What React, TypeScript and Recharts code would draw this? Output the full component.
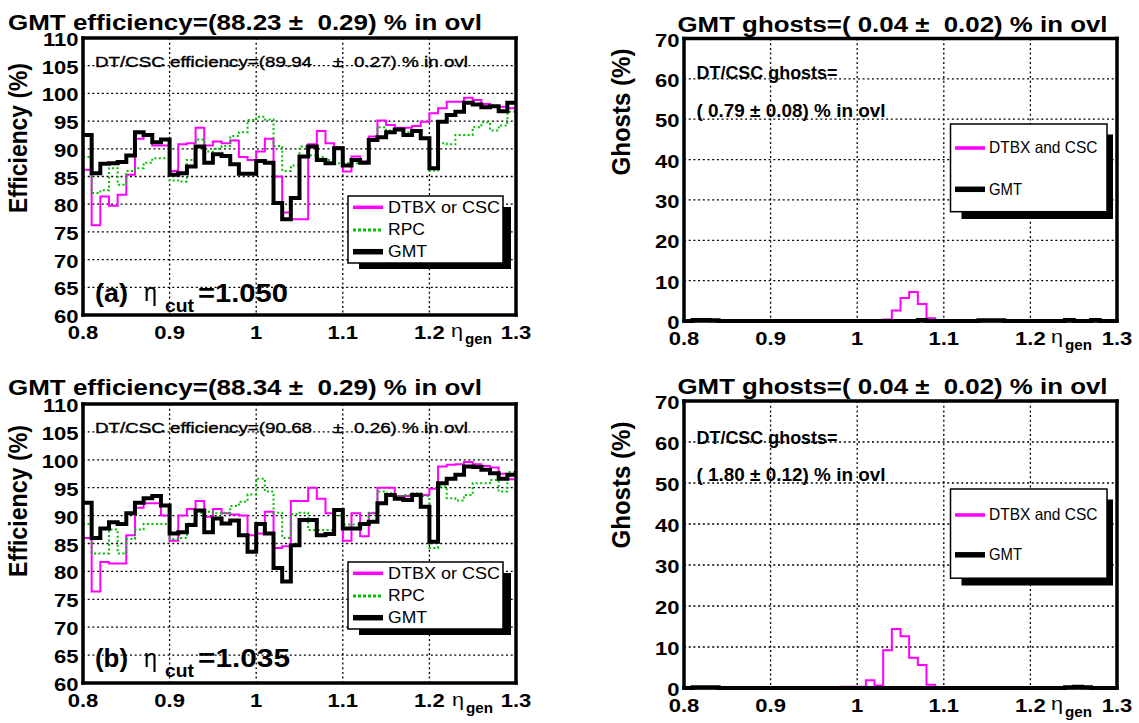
import React from 'react';
import { ComposedChart, Line, XAxis, YAxis, CartesianGrid, Legend } from 'recharts';

const FONT = '"Liberation Sans", Arial, Helvetica, sans-serif';
const SX = 1.16; // the original glyphs are drawn a bit wide
const MAGENTA = '#ff00ff';
const GREEN = '#00c000';

// eta_gen bin low edges, plus the upper edge of the last bin
const etaEdges = [
  0.80, 0.81, 0.82, 0.83, 0.84, 0.85, 0.86, 0.87, 0.88, 0.89,
  0.90, 0.91, 0.92, 0.93, 0.94, 0.95, 0.96, 0.97, 0.98, 0.99,
  1.00, 1.01, 1.02, 1.03, 1.04, 1.05, 1.06, 1.07, 1.08, 1.09,
  1.10, 1.11, 1.12, 1.13, 1.14, 1.15, 1.16, 1.17, 1.18, 1.19,
  1.20, 1.21, 1.22, 1.23, 1.24, 1.25, 1.26, 1.27, 1.28, 1.29,
  1.30,
];

const xTicks = [0.8, 0.9, 1.0, 1.1, 1.2, 1.3];
const xMinorTicks = [0.85, 0.95, 1.05, 1.15, 1.25];
const effTicks = [60, 65, 70, 75, 80, 85, 90, 95, 100, 105, 110];
const effMinorTicks = [
  61, 62, 63, 64, 66, 67, 68, 69, 71, 72, 73, 74, 76, 77, 78, 79,
  81, 82, 83, 84, 86, 87, 88, 89, 91, 92, 93, 94, 96, 97, 98, 99,
  101, 102, 103, 104, 106, 107, 108, 109,
];
const ghostTicks = [0, 10, 20, 30, 40, 50, 60, 70];
const ghostMinorTicks = [
  2, 4, 6, 8, 12, 14, 16, 18, 22, 24, 26, 28, 32, 34, 36, 38,
  42, 44, 46, 48, 52, 54, 56, 58, 62, 64, 66, 68,
];

// (a) eta_cut = 1.050, efficiency (%)
const dtbxEffA = [
  86.2, 76.2, 81.4, 79.7, 81.7, 85.3, 91.8, 92.4, 90.6, 90.6,
  86.0, 90.8, 91.0, 93.8, 90.6, 91.3, 91.0, 91.5, 88.5, 88.0,
  89.5, 91.8, 85.0, 78.5, 77.3, 77.3, 90.8, 93.2, 91.0, 90.3,
  85.9, 88.6, 87.7, 92.2, 95.1, 94.3, 93.8, 93.8, 94.1, 94.9,
  96.4, 97.3, 98.5, 98.5, 99.2, 98.8, 98.1, 97.6, 97.6, 97.3,
];
const rpcEffA = [
  88.5, 82.0, 82.5, 86.5, 83.5, 86.0, 86.5, 87.5, 88.3, 88.3,
  84.3, 84.1, 88.0, 91.7, 89.5, 90.0, 90.5, 92.3, 93.0, 95.2,
  95.8, 95.3, 90.5, 86.0, 87.0, 90.4, 88.8, 88.5, 88.0, 87.4,
  87.4, 87.4, 87.4, 91.5, 93.9, 93.3, 93.5, 93.0, 93.3, 92.0,
  86.1, 91.0, 90.8, 92.5, 92.5, 93.9, 94.8, 93.3, 94.2, 96.7,
];
const gmtEffA = [
  92.5, 85.6, 87.3, 87.4, 87.6, 88.8, 93.0, 92.5, 91.2, 91.7,
  85.3, 85.6, 86.8, 90.4, 87.5, 89.0, 88.7, 87.2, 85.5, 85.5,
  87.8, 87.5, 80.2, 77.3, 81.1, 88.6, 90.4, 88.0, 87.4, 90.1,
  87.0, 88.0, 87.5, 91.6, 92.1, 93.0, 93.5, 92.5, 93.2, 91.9,
  86.5, 94.9, 96.1, 96.7, 98.3, 98.0, 97.5, 97.7, 96.8, 98.3,
];

// (b) eta_cut = 1.035, efficiency (%)
const dtbxEffB = [
  86.0, 76.4, 81.7, 81.4, 81.4, 86.5, 91.4, 92.2, 92.2, 90.0,
  85.5, 90.0, 91.2, 92.6, 89.8, 91.2, 90.4, 90.2, 90.0, 86.5,
  86.8, 90.7, 84.2, 84.5, 92.6, 92.6, 95.0, 93.0, 90.4, 91.0,
  85.5, 90.4, 86.3, 90.4, 95.0, 95.0, 93.5, 93.5, 93.9, 93.7,
  94.8, 98.8, 99.1, 99.2, 99.6, 99.2, 98.9, 98.6, 97.5, 96.5,
];
const rpcEffB = [
  88.5, 83.2, 83.2, 87.5, 83.2, 85.8, 87.5, 88.5, 88.5, 88.5,
  85.8, 86.0, 88.6, 90.5, 90.7, 90.4, 90.5, 91.7, 92.5, 93.8,
  96.6, 94.3, 90.5, 86.0, 90.3, 90.5, 87.4, 87.4, 87.4, 90.0,
  88.4, 88.4, 88.4, 90.5, 94.3, 94.0, 93.5, 93.7, 94.0, 93.5,
  84.2, 95.2, 93.1, 92.7, 93.7, 95.8, 95.8, 96.4, 94.3, 97.8,
];
const gmtEffB = [
  92.3, 86.0, 87.7, 88.8, 88.5, 90.4, 92.3, 93.1, 93.5, 91.8,
  86.8, 87.0, 88.3, 90.9, 87.0, 89.5, 88.6, 89.1, 86.5, 83.5,
  88.5, 86.8, 80.6, 78.2, 84.7, 89.2, 89.2, 86.5, 86.7, 91.0,
  87.7, 87.7, 88.5, 88.9, 92.2, 93.7, 93.0, 92.8, 93.7, 91.6,
  85.3, 95.8, 96.6, 97.3, 98.8, 98.7, 98.2, 97.6, 96.6, 97.3,
];

// ghosts (%)
const dtbxGhostA = [
  0, 0, 0, 0, 0, 0, 0, 0, 0, 0,
  0, 0, 0, 0.15, 0.15, 0, 0, 0, 0, 0.1,
  0.1, 0.1, 0.1, 0.4, 2.6, 5.7, 7.2, 4.2, 0.7, 0,
  0, 0, 0, 0, 0, 0, 0, 0, 0, 0,
  0, 0, 0, 0, 0, 0, 0, 0, 0, 0,
];
const gmtGhostA = [
  0, 0.25, 0.25, 0.2, 0, 0, 0, 0, 0, 0,
  0, 0, 0, 0, 0, 0, 0, 0, 0, 0,
  0, 0, 0, 0, 0, 0, 0, 0.25, 0, 0,
  0, 0, 0, 0, 0.2, 0.2, 0.2, 0, 0, 0,
  0, 0, 0, 0, 0.25, 0, 0, 0.25, 0, 0,
];
const dtbxGhostB = [
  0, 0, 0, 0, 0, 0, 0, 0, 0, 0,
  0, 0, 0, 0, 0, 0, 0, 0, 0.3, 0.3,
  0.3, 1.9, 0.6, 9.2, 14.4, 12.6, 7.4, 5.6, 0.8, 0,
  0, 0, 0, 0, 0, 0, 0, 0, 0, 0,
  0, 0, 0, 0, 0, 0, 0, 0, 0, 0,
];
const gmtGhostB = [
  0, 0.2, 0.2, 0.2, 0, 0, 0, 0, 0, 0,
  0, 0, 0, 0, 0, 0, 0, 0, 0, 0,
  0, 0, 0, 0, 0, 0, 0, 0, 0, 0,
  0, 0, 0, 0, 0, 0, 0, 0, 0, 0,
  0, 0, 0, 0, 0.2, 0.3, 0.2, 0, 0, 0,
];

function makeRows(cols: Record<string, number[]>) {
  return etaEdges.map((x, i) => {
    const row: Record<string, number> = { x };
    for (const k in cols) row[k] = cols[k][Math.min(i, cols[k].length - 1)];
    return row;
  });
}

type SeriesDef = { key: string; color: string; width: number; dash?: string };
type LegendEntry = { color: string; width: number; dash?: string; y: number; ty: number; label: string; len: number };
type LegendDef = { box: number[]; shadow: number[]; sx: number[]; tx: number; size: number; entries: LegendEntry[] };

const effSeries: SeriesDef[] = [
  { key: 'dtbx', color: MAGENTA, width: 2 },
  { key: 'rpc', color: GREEN, width: 2, dash: '2 2.5' },
  { key: 'gmt', color: '#000', width: 4 },
];
const ghostSeries: SeriesDef[] = [
  { key: 'dtbx', color: MAGENTA, width: 2 },
  { key: 'gmt', color: '#000', width: 4 },
];

function effLegend(dy: number): LegendDef {
  return {
    box: [348, 196 + dy, 503, 263 + dy], shadow: [359, 207 + dy, 511, 269 + dy], sx: [353, 383], tx: 388, size: 16,
    entries: [
      { color: MAGENTA, width: 3.5, y: 207.3 + dy, ty: 213.3 + dy, label: 'DTBX or CSC', len: 112 },
      { color: GREEN, width: 3, dash: '3 2', y: 230 + dy, ty: 235.3 + dy, label: 'RPC', len: 37 },
      { color: '#000', width: 5.5, y: 251.7 + dy, ty: 257.3 + dy, label: 'GMT', len: 39 },
    ],
  };
}
function ghostLegend(y0: number, y1: number, magY: number, gmtY: number): LegendDef {
  return {
    box: [950.5, y0, 1107, y1], shadow: [961.5, y0 + 10.5, 1113, y1 + 7.3], sx: [955, 985], tx: 989, size: 16.5,
    entries: [
      { color: MAGENTA, width: 3.5, y: magY, ty: magY + 5.3, label: 'DTBX and CSC', len: 108.5 },
      { color: '#000', width: 5.5, y: gmtY, ty: gmtY + 5.3, label: 'GMT', len: 33 },
    ],
  };
}

function LegendSvg({ def, left, top, w, h }: { def: LegendDef; left: number; top: number; w: number; h: number }) {
  const [x0, y0, x1, y1] = def.box;
  const [s0, t0, s1, t1] = def.shadow;
  return (
    <svg width={w} height={h} style={{ position: 'absolute', left: 0, top: 0, overflow: 'visible' }}>
      <g transform={`translate(${-left},${-top})`}>
        <rect x={s0} y={t0} width={s1 - s0} height={t1 - t0} fill="#000" />
        <rect x={x0} y={y0} width={x1 - x0} height={y1 - y0} fill="#fff" stroke="#000" strokeWidth={1.5} />
        {def.entries.map((e) => (
          <g key={e.label}>
            <line x1={def.sx[0]} x2={def.sx[1]} y1={e.y} y2={e.y} stroke={e.color} strokeWidth={e.width} strokeDasharray={e.dash} />
            <text x={def.tx} y={e.ty} fontFamily={FONT} fontSize={def.size} textLength={e.len} lengthAdjust="spacingAndGlyphs" fill="#000">{e.label}</text>
          </g>
        ))}
      </g>
    </svg>
  );
}

type PanelProps = {
  left: number; top: number; w: number; h: number;
  plot: { l: number; t: number; r: number; b: number };
  yDomain: number[]; yTicks: number[]; yMinor: number[];
  rows: Record<string, number>[]; series: SeriesDef[]; legend: LegendDef;
};

function Panel({ left, top, w, h, plot, yDomain, yTicks, yMinor, rows, series, legend }: PanelProps) {
  const margin = { left: plot.l - left, top: plot.t - top, right: left + w - plot.r, bottom: top + h - plot.b };
  const frame = { stroke: '#000', strokeWidth: 3.5, strokeLinecap: 'square' as const };
  const tickLine = { stroke: '#000', strokeWidth: 1.5 };
  const labelBase = plot.b - top + 24;
  const labelRight = plot.l - left - 4.5;

  const xTick = (p: any) => (
    <text transform={`translate(${p.x},${labelBase}) scale(${SX},1)`} textAnchor="middle"
      fontFamily={FONT} fontWeight="bold" fontSize={19} fill="#000">{String(p.payload.value)}</text>
  );
  const yTick = (p: any) => (
    <text transform={`translate(${labelRight},${p.y + 8}) scale(${SX},1)`} textAnchor="end"
      fontFamily={FONT} fontWeight="bold" fontSize={19} fill="#000">{String(p.payload.value)}</text>
  );

  return (
    <div style={{ position: 'absolute', left, top, width: w, height: h }}>
      <ComposedChart width={w} height={h} data={rows} margin={margin}>
        <CartesianGrid xAxisId="x" yAxisId="y" stroke="#000" strokeWidth={1.3} strokeDasharray="2 2.7" />
        {series.map((s) => (
          <Line key={s.key} xAxisId="x" yAxisId="y" type="stepAfter" dataKey={s.key} stroke={s.color}
            strokeWidth={s.width} strokeDasharray={s.dash} dot={false} activeDot={false} isAnimationActive={false} />
        ))}
        <XAxis xAxisId="x" dataKey="x" type="number" domain={[0.8, 1.3]} ticks={xTicks} interval={0}
          orientation="bottom" mirror height={0.01} tickLine={false} axisLine={frame} tick={xTick} />
        <XAxis xAxisId="xm" dataKey="x" type="number" domain={[0.8, 1.3]} ticks={xMinorTicks} interval={0}
          orientation="bottom" mirror height={0.01} tickSize={8} tickLine={tickLine} axisLine={false} tick={false} />
        <XAxis xAxisId="xt" dataKey="x" type="number" domain={[0.8, 1.3]} ticks={xMinorTicks} interval={0}
          orientation="top" mirror height={0.01} tickSize={8} tickLine={tickLine} axisLine={frame} tick={false} />
        <YAxis yAxisId="y" type="number" domain={yDomain} ticks={yTicks} interval={0}
          orientation="left" mirror width={0.01} tickLine={false} axisLine={frame} tick={yTick} />
        <YAxis yAxisId="ym" type="number" domain={yDomain} ticks={yMinor} interval={0}
          orientation="left" mirror width={0.01} tickSize={7} tickLine={tickLine} axisLine={false} tick={false} />
        <YAxis yAxisId="yr" type="number" domain={yDomain} ticks={yTicks} interval={0}
          orientation="right" mirror width={0.01} tickLine={false} axisLine={frame} tick={false} />
        <Legend layout="horizontal" verticalAlign="middle" align="center"
          wrapperStyle={{ left: 0, top: 0, width: w, height: h, pointerEvents: 'none' }}
          content={() => <LegendSvg def={legend} left={left} top={top} w={w} h={h} />} />
      </ComposedChart>
    </div>
  );
}

function Txt({ x, y, size, bold, len, heavy, children }: any) {
  return (
    <text x={x} y={y} fontFamily={FONT} fontSize={size} fontWeight={bold ? 'bold' : 'normal'} fill="#000"
      stroke={heavy ? '#000' : undefined} strokeWidth={heavy ? 0.35 : undefined}
      textLength={len} lengthAdjust="spacingAndGlyphs" style={{ whiteSpace: 'pre' }}>{children}</text>
  );
}

function YTitle({ x, cy, len, size, children }: any) {
  return (
    <text transform={`translate(${x},${cy}) scale(${SX},1) rotate(-90)`} textAnchor="middle" fontFamily={FONT}
      fontSize={size} fontWeight="bold" fill="#000" textLength={len} lengthAdjust="spacingAndGlyphs">{children}</text>
  );
}

function EtaGen({ x, base }: { x: number; base: number }) {
  return (
    <g>
      <Txt x={x} y={base + 22} size={19} len={12}>η</Txt>
      <Txt x={x + 14} y={base + 29} size={14} bold len={27}>gen</Txt>
    </g>
  );
}

export default function App() {
  const rowsA = makeRows({ dtbx: dtbxEffA, rpc: rpcEffA, gmt: gmtEffA });
  const rowsB = makeRows({ dtbx: dtbxEffB, rpc: rpcEffB, gmt: gmtEffB });
  const rowsGA = makeRows({ dtbx: dtbxGhostA, gmt: gmtGhostA });
  const rowsGB = makeRows({ dtbx: dtbxGhostB, gmt: gmtGhostB });

  return (
    <div style={{ position: 'absolute', left: 0, top: 0, width: 1139, height: 723, background: '#fff', overflow: 'hidden' }}>
      <Panel left={0} top={0} w={569} h={361} plot={{ l: 83, t: 38, r: 516, b: 315 }}
        yDomain={[60, 110]} yTicks={effTicks} yMinor={effMinorTicks} rows={rowsA} series={effSeries} legend={effLegend(0)} />
      <Panel left={0} top={361} w={569} h={362} plot={{ l: 83, t: 404, r: 516, b: 683 }}
        yDomain={[60, 110]} yTicks={effTicks} yMinor={effMinorTicks} rows={rowsB} series={effSeries} legend={effLegend(366)} />
      <Panel left={569} top={0} w={570} h={361} plot={{ l: 684, t: 38.5, r: 1117, b: 321 }}
        yDomain={[0, 70]} yTicks={ghostTicks} yMinor={ghostMinorTicks} rows={rowsGA} series={ghostSeries}
        legend={ghostLegend(124, 211.7, 148, 189.3)} />
      <Panel left={569} top={361} w={570} h={362} plot={{ l: 684, t: 401, r: 1117, b: 688 }}
        yDomain={[0, 70]} yTicks={ghostTicks} yMinor={ghostMinorTicks} rows={rowsGB} series={ghostSeries}
        legend={ghostLegend(489, 578.2, 515, 554.8)} />

      <svg width={1139} height={723} style={{ position: 'absolute', left: 0, top: 0, pointerEvents: 'none' }}>
        {/* top left */}
        <Txt x={8} y={29.5} size={22.5} bold len={474}>GMT efficiency=(88.23 ±  0.29) % in ovl</Txt>
        <YTitle x={27} cy={138} len={150} size={22}>Efficiency (%)</YTitle>
        <Txt x={95} y={67} size={14} heavy len={217}>DT/CSC efficiency=(89.94</Txt>
        <Txt x={333} y={67} size={14} heavy len={10}>±</Txt>
        <Txt x={354} y={67} size={14} heavy len={114}>0.27) % in ovl</Txt>
        <Txt x={95} y={301.5} size={26} bold len={33}>(a)</Txt>
        <Txt x={144} y={301} size={25} len={13}>η</Txt>
        <Txt x={165} y={312} size={18} bold len={29}>cut</Txt>
        <Txt x={198} y={301.5} size={26} bold len={90}>=1.050</Txt>
        <EtaGen x={451} base={315} />

        {/* bottom left */}
        <Txt x={8} y={395} size={22.5} bold len={474}>GMT efficiency=(88.34 ±  0.29) % in ovl</Txt>
        <YTitle x={27} cy={501} len={152} size={22}>Efficiency (%)</YTitle>
        <Txt x={95} y={432.7} size={14} heavy len={217}>DT/CSC efficiency=(90.68</Txt>
        <Txt x={333} y={432.7} size={14} heavy len={10}>±</Txt>
        <Txt x={354} y={432.7} size={14} heavy len={114}>0.26) % in ovl</Txt>
        <Txt x={95} y={667} size={26} bold len={33}>(b)</Txt>
        <Txt x={144} y={666.5} size={25} len={13}>η</Txt>
        <Txt x={165} y={677} size={18} bold len={29}>cut</Txt>
        <Txt x={198} y={667} size={26} bold len={92}>=1.035</Txt>
        <EtaGen x={452} base={684} />

        {/* top right */}
        <Txt x={677.5} y={31.7} size={22.5} bold len={430}>GMT ghosts=( 0.04 ±  0.02) % in ovl</Txt>
        <YTitle x={629.5} cy={112} len={127} size={23}>Ghosts (%)</YTitle>
        <Txt x={696.5} y={79.2} size={17.5} bold len={141}>DT/CSC ghosts=</Txt>
        <Txt x={696.5} y={117} size={17.5} bold len={189}>( 0.79 ± 0.08) % in ovl</Txt>
        <EtaGen x={1051} base={321} />

        {/* bottom right */}
        <Txt x={677.5} y={394.4} size={22.5} bold len={430}>GMT ghosts=( 0.04 ±  0.02) % in ovl</Txt>
        <YTitle x={629.5} cy={485} len={127} size={23}>Ghosts (%)</YTitle>
        <Txt x={696.5} y={444.4} size={17.5} bold len={141}>DT/CSC ghosts=</Txt>
        <Txt x={696.5} y={481.2} size={17.5} bold len={189}>( 1.80 ± 0.12) % in ovl</Txt>
        <EtaGen x={1051} base={688} />
      </svg>
    </div>
  );
}
